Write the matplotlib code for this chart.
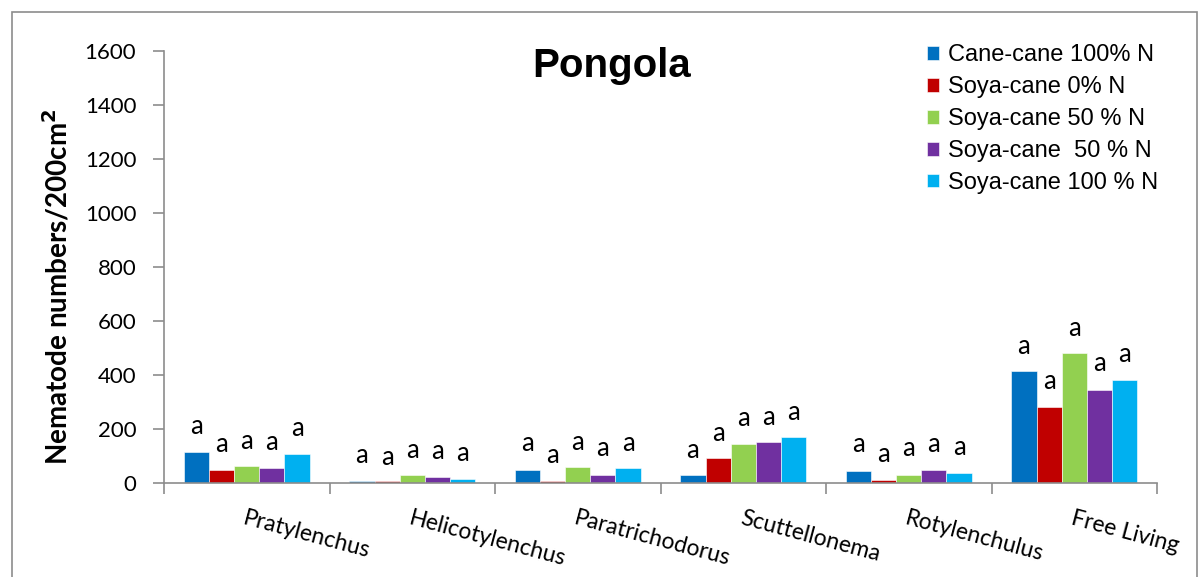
import matplotlib
matplotlib.use("Agg")
import matplotlib.pyplot as plt
import numpy as np
from matplotlib.patches import Rectangle

categories = ["Pratylenchus", "Helicotylenchus", "Paratrichodorus",
              "Scuttellonema", "Rotylenchulus", "Free Living"]
series_names = ["Cane-cane 100% N", "Soya-cane 0% N", "Soya-cane 50 % N",
                "Soya-cane  50 % N", "Soya-cane 100 % N"]
colors = ["#0070C0", "#C00000", "#92D050", "#7030A0", "#00B0F0"]

cane_100 = [115, 7, 50, 28, 46, 413]
soya_0 = [48, 6, 7, 94, 11, 280]
soya_50a = [62, 28, 59, 144, 30, 481]
soya_50b = [57, 23, 30, 153, 48, 346]
soya_100 = [107, 14, 55, 172, 38, 380]
values = [cane_100, soya_0, soya_50a, soya_50b, soya_100]

# significance letters and their heights (above hidden error bars)
sig_letters = ["a"] * 6
letter_y_cane_100 = [208, 103, 148, 122, 144, 506]
letter_y_soya_0 = [144, 96, 103, 185, 107, 377]
letter_y_soya_50a = [155, 122, 151, 240, 126, 573]
letter_y_soya_50b = [151, 118, 126, 244, 144, 443]
letter_y_soya_100 = [200, 111, 148, 262, 133, 477]
letter_y = [letter_y_cane_100, letter_y_soya_0, letter_y_soya_50a,
            letter_y_soya_50b, letter_y_soya_100]

yticks = [0, 200, 400, 600, 800, 1000, 1200, 1400, 1600]

W, H = 1200, 577
fig = plt.figure(figsize=(W / 100, H / 100), dpi=100)

# outer chart frame
fig.patches.append(Rectangle((12 / W, -0.05), (1197 - 12) / W, 1.05 - 12 / H,
                             transform=fig.transFigure, fill=False,
                             edgecolor="#8c8c8c", linewidth=1.2))

ax = fig.add_axes([164 / W, 94 / H, (1157 - 164) / W, (526 - 94) / H])

n = len(series_names)
bw = 0.152
x = np.arange(len(categories))
for i in range(n):
    pos = x + (i - (n - 1) / 2) * bw
    ax.bar(pos, values[i], width=bw, color=colors[i], label=series_names[i],
           edgecolor="white", linewidth=0.4)
    for j in range(len(categories)):
        ax.text(pos[j], letter_y[i][j], sig_letters[j], ha="center", va="center",
                fontsize=18.5, family="Lato", color="black")

ax.set_xlim(-0.5, len(categories) - 0.5)
ax.set_ylim(0, 1600)
ax.set_yticks(yticks)
ax.set_yticklabels([str(t) for t in yticks], fontsize=16, family="Lato")
ax.set_xticks(np.arange(len(categories) + 1) - 0.5)
ax.set_xticklabels([])
ax.tick_params(axis="y", direction="out", length=8, color="#8c8c8c", width=1.2, pad=12)
ax.tick_params(axis="x", direction="out", length=8, color="#8c8c8c", width=1.2)
for s in ["top", "right"]:
    ax.spines[s].set_visible(False)
for s in ["left", "bottom"]:
    ax.spines[s].set_color("#8c8c8c")
    ax.spines[s].set_linewidth(1.2)

for j, name in enumerate(categories):
    ax.annotate(name, xy=(j, 0), xycoords="data", xytext=(0, -18),
                textcoords="offset points", rotation=-15, rotation_mode="anchor",
                ha="left", va="top", fontsize=16.5, family="Lato")

ax.set_ylabel("Nematode numbers/200cm$^\\mathbf{2}$", fontsize=20, fontweight="bold",
              family="Lato", va="center")
ax.yaxis.set_label_coords(-0.108, 0.454)

fig.text(612 / W, 1 - 66 / H, "Pongola", ha="center", va="center",
         fontsize=29, fontweight="bold", family="Liberation Sans")

leg = ax.legend(loc="upper left", bbox_to_anchor=(918 / W, 1 - 35 / H),
                bbox_transform=fig.transFigure, frameon=False,
                prop={"family": "Liberation Sans", "size": 17},
                handlelength=0.5, handleheight=0.5, handletextpad=0.35,
                labelspacing=0.42, borderaxespad=0)

fig.savefig("out.png", dpi=100)
